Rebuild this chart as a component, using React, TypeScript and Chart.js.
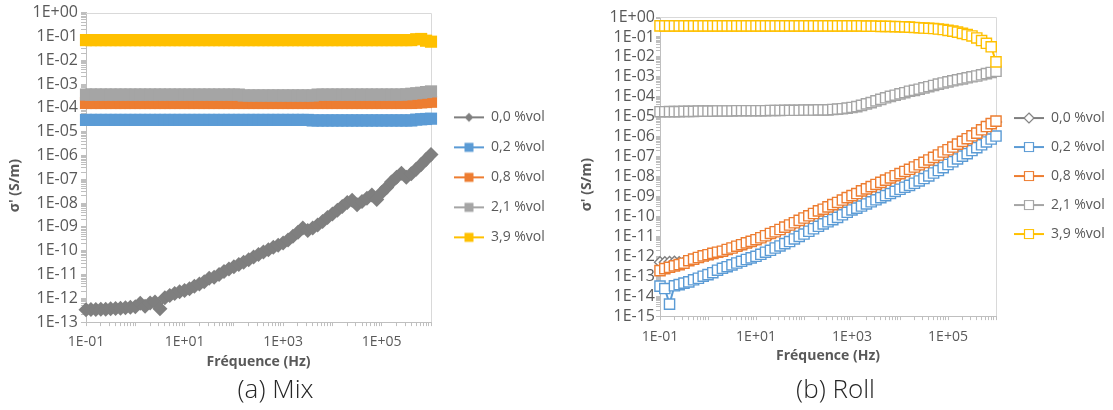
import React, { useEffect, useRef } from 'react';
import { Chart, registerables } from 'chart.js';

Chart.register(...registerables);

const FONT = '"Open Sans", "DejaVu Sans", sans-serif';
const TEXT = '#595959';
const AXIS = '#BFBFBF';

// ---- data ----
const frequencyHz = [
  0.1, 0.126, 0.158, 0.2, 0.251, 0.316, 0.398, 0.501, 0.631, 0.794,
  1, 1.26, 1.58, 2, 2.51, 3.16, 3.98, 5.01, 6.31, 7.94,
  10, 12.6, 15.8, 20, 25.1, 31.6, 39.8, 50.1, 63.1, 79.4,
  100, 126, 158, 200, 251, 316, 398, 501, 631, 794,
  1000, 1260, 1580, 2000, 2510, 3160, 3980, 5010, 6310, 7940,
  10000, 12600, 15800, 20000, 25100, 31600, 39800, 50100, 63100, 79400,
  100000, 126000, 158000, 200000, 251000, 316000, 398000, 501000, 631000, 794000,
  1000000,
];

const seriesLabels = ['0,0 %vol', '0,2 %vol', '0,8 %vol', '2,1 %vol', '3,9 %vol'];
const seriesColors = ['#7F7F7F', '#5B9BD5', '#ED7D31', '#A5A5A5', '#FFC000'];

// (a) Mix
const mix00 = [
  3.3e-13, 3.4e-13, 3.4e-13, 3.5e-13, 3.5e-13, 3.6e-13, 3.7e-13, 3.8e-13, 4.0e-13, 4.2e-13,
  4.4e-13, 6.2e-13, 4.6e-13, 6.4e-13, 7.0e-13, 3.6e-13, 1.05e-12, 1.3e-12, 1.6e-12, 1.9e-12,
  2.1e-12, 2.5e-12, 3.2e-12, 4.0e-12, 5.0e-12, 7.0e-12, 7.6e-12, 1.0e-11, 1.35e-11, 1.7e-11,
  2.1e-11, 2.6e-11, 3.3e-11, 4.2e-11, 5.4e-11, 6.9e-11, 8.7e-11, 1.1e-10, 1.4e-10, 1.7e-10,
  2.1e-10, 2.8e-10, 4.0e-10, 6.0e-10, 9.0e-10, 7.0e-10, 9.0e-10, 1.2e-9, 1.7e-9, 2.5e-9,
  3.5e-9, 5.0e-9, 7.1e-9, 1.05e-8, 1.3e-8, 8.5e-9, 1.15e-8, 1.6e-8, 2.2e-8, 1.4e-8,
  2.8e-8, 4.5e-8, 7.6e-8, 1.2e-7, 1.8e-7, 1.2e-7, 1.7e-7, 2.6e-7, 4.2e-7, 6.8e-7,
  1.1e-6,
];
const mix02 = [
  3.1e-5, 3.1e-5, 3.1e-5, 3.1e-5, 3.1e-5, 3.1e-5, 3.1e-5, 3.1e-5, 3.1e-5, 3.1e-5,
  3.1e-5, 3.1e-5, 3.1e-5, 3.1e-5, 3.1e-5, 3.1e-5, 3.1e-5, 3.1e-5, 3.1e-5, 3.1e-5,
  3.1e-5, 3.1e-5, 3.1e-5, 3.1e-5, 3.1e-5, 3.1e-5, 3.1e-5, 3.1e-5, 3.1e-5, 3.1e-5,
  3.1e-5, 3.1e-5, 3.1e-5, 3.1e-5, 3.1e-5, 3.1e-5, 3.1e-5, 3.1e-5, 3.1e-5, 3.1e-5,
  3.1e-5, 3.1e-5, 3.1e-5, 3.1e-5, 3.1e-5, 3.1e-5, 2.95e-5, 2.95e-5, 2.95e-5, 2.95e-5,
  2.95e-5, 2.95e-5, 2.95e-5, 2.95e-5, 2.95e-5, 2.95e-5, 2.95e-5, 2.95e-5, 2.95e-5, 2.95e-5,
  2.95e-5, 2.95e-5, 2.95e-5, 2.95e-5, 2.95e-5, 2.95e-5, 2.95e-5, 3.2e-5, 3.3e-5, 3.4e-5,
  3.5e-5,
];
const mix08 = [
  1.6e-4, 1.6e-4, 1.6e-4, 1.6e-4, 1.6e-4, 1.6e-4, 1.6e-4, 1.6e-4, 1.6e-4, 1.6e-4,
  1.6e-4, 1.6e-4, 1.6e-4, 1.6e-4, 1.6e-4, 1.6e-4, 1.6e-4, 1.6e-4, 1.6e-4, 1.6e-4,
  1.6e-4, 1.6e-4, 1.6e-4, 1.6e-4, 1.6e-4, 1.6e-4, 1.6e-4, 1.6e-4, 1.6e-4, 1.6e-4,
  1.6e-4, 1.6e-4, 1.6e-4, 1.6e-4, 1.6e-4, 1.6e-4, 1.6e-4, 1.6e-4, 1.6e-4, 1.6e-4,
  1.6e-4, 1.6e-4, 1.6e-4, 1.6e-4, 1.6e-4, 1.6e-4, 1.6e-4, 1.6e-4, 1.6e-4, 1.6e-4,
  1.6e-4, 1.6e-4, 1.6e-4, 1.6e-4, 1.6e-4, 1.6e-4, 1.6e-4, 1.6e-4, 1.6e-4, 1.6e-4,
  1.6e-4, 1.6e-4, 1.6e-4, 1.6e-4, 1.6e-4, 1.6e-4, 1.6e-4, 1.65e-4, 1.7e-4, 1.75e-4,
  1.8e-4,
];
const mix21 = [
  3.6e-4, 3.6e-4, 3.6e-4, 3.6e-4, 3.6e-4, 3.6e-4, 3.6e-4, 3.6e-4, 3.6e-4, 3.6e-4,
  3.6e-4, 3.6e-4, 3.6e-4, 3.6e-4, 3.6e-4, 3.6e-4, 3.6e-4, 3.6e-4, 3.6e-4, 3.6e-4,
  3.6e-4, 3.6e-4, 3.6e-4, 3.6e-4, 3.6e-4, 3.6e-4, 3.6e-4, 3.6e-4, 3.6e-4, 3.6e-4,
  3.6e-4, 3.6e-4, 3.3e-4, 3.3e-4, 3.3e-4, 3.3e-4, 3.3e-4, 3.3e-4, 3.3e-4, 3.3e-4,
  3.3e-4, 3.3e-4, 3.3e-4, 3.3e-4, 3.3e-4, 3.3e-4, 3.3e-4, 3.6e-4, 3.6e-4, 3.6e-4,
  3.6e-4, 3.6e-4, 3.6e-4, 3.6e-4, 3.6e-4, 3.6e-4, 3.6e-4, 3.6e-4, 3.6e-4, 3.6e-4,
  3.6e-4, 3.6e-4, 3.6e-4, 3.6e-4, 3.6e-4, 3.7e-4, 3.9e-4, 4.1e-4, 4.3e-4, 4.6e-4,
  4.9e-4,
];
const mix39 = [
  0.07, 0.07, 0.07, 0.07, 0.07, 0.07, 0.07, 0.07, 0.07, 0.07,
  0.07, 0.07, 0.07, 0.07, 0.07, 0.07, 0.07, 0.07, 0.07, 0.07,
  0.07, 0.07, 0.07, 0.07, 0.07, 0.07, 0.07, 0.07, 0.07, 0.07,
  0.07, 0.07, 0.07, 0.07, 0.07, 0.07, 0.07, 0.07, 0.07, 0.07,
  0.07, 0.07, 0.07, 0.07, 0.07, 0.07, 0.07, 0.07, 0.07, 0.07,
  0.07, 0.07, 0.07, 0.07, 0.07, 0.07, 0.07, 0.07, 0.07, 0.07,
  0.07, 0.07, 0.07, 0.07, 0.07, 0.07, 0.07, 0.076, 0.078, 0.066,
  0.06,
];

// (b) Roll
const roll00 = [
  5.0e-13, 5.0e-13, 5.2e-13, 5.3e-13, 5.0e-13, 5.0e-13, 6.0e-13, 7.0e-13, 8.5e-13, 1.0e-12,
  1.1e-12, 1.3e-12, 1.5e-12, 1.7e-12, 2.0e-12, 2.4e-12, 2.9e-12, 3.5e-12, 4.3e-12, 5.1e-12,
  6.2e-12, 7.7e-12, 9.7e-12, 1.25e-11, 1.55e-11, 2.0e-11, 2.6e-11, 3.3e-11, 4.3e-11, 5.7e-11,
  7.5e-11, 9.6e-11, 1.25e-10, 1.7e-10, 2.1e-10, 2.7e-10, 3.5e-10, 4.5e-10, 6.0e-10, 7.8e-10,
  1.0e-9, 1.25e-9, 1.7e-9, 2.2e-9, 2.8e-9, 3.6e-9, 4.6e-9, 6.0e-9, 7.6e-9, 1.0e-8,
  1.25e-8, 1.6e-8, 2.1e-8, 2.7e-8, 3.5e-8, 4.6e-8, 6.1e-8, 8.2e-8, 1.1e-7, 1.5e-7,
  2.0e-7, 2.7e-7, 3.8e-7, 5.2e-7, 7.1e-7, 1.0e-6, 1.35e-6, 2.0e-6, 2.9e-6, 4.0e-6,
  5.4e-6,
];
const roll02 = [
  3.2e-14, 2.4e-14, 4.0e-15, 3.3e-14, 3.8e-14, 4.5e-14, 5.2e-14, 6.6e-14, 7.9e-14, 1.0e-13,
  1.2e-13, 1.5e-13, 2.0e-13, 2.5e-13, 3.0e-13, 3.7e-13, 4.6e-13, 5.6e-13, 6.9e-13, 8.3e-13,
  1.0e-12, 1.26e-12, 1.6e-12, 2.0e-12, 2.6e-12, 3.3e-12, 4.3e-12, 5.5e-12, 7.4e-12, 1.0e-11,
  1.3e-11, 1.8e-11, 2.4e-11, 3.2e-11, 4.2e-11, 5.4e-11, 6.9e-11, 8.9e-11, 1.2e-10, 1.6e-10,
  2.1e-10, 2.6e-10, 3.3e-10, 4.2e-10, 5.4e-10, 6.8e-10, 8.7e-10, 1.1e-9, 1.4e-9, 1.8e-9,
  2.3e-9, 2.9e-9, 3.6e-9, 4.6e-9, 6.0e-9, 7.9e-9, 1.07e-8, 1.5e-8, 2.0e-8, 2.8e-8,
  4.0e-8, 5.5e-8, 7.6e-8, 1.05e-7, 1.4e-7, 2.0e-7, 2.8e-7, 3.9e-7, 5.4e-7, 7.6e-7,
  1.07e-6,
];
const roll08 = [
  1.9e-13, 2.4e-13, 2.8e-13, 3.3e-13, 3.8e-13, 4.5e-13, 6.0e-13, 7.2e-13, 8.7e-13, 1.05e-12,
  1.2e-12, 1.4e-12, 1.6e-12, 1.8e-12, 2.2e-12, 2.6e-12, 3.2e-12, 3.8e-12, 4.7e-12, 5.6e-12,
  6.8e-12, 8.5e-12, 1.07e-11, 1.4e-11, 1.7e-11, 2.2e-11, 2.9e-11, 3.7e-11, 4.8e-11, 6.3e-11,
  8.3e-11, 1.07e-10, 1.4e-10, 1.9e-10, 2.3e-10, 3.0e-10, 3.9e-10, 5.0e-10, 6.6e-10, 8.7e-10,
  1.1e-9, 1.4e-9, 1.9e-9, 2.4e-9, 3.1e-9, 4.0e-9, 5.1e-9, 6.6e-9, 8.5e-9, 1.1e-8,
  1.4e-8, 1.8e-8, 2.3e-8, 3.0e-8, 3.9e-8, 5.1e-8, 6.8e-8, 9.1e-8, 1.2e-7, 1.7e-7,
  2.2e-7, 3.0e-7, 4.2e-7, 5.8e-7, 7.9e-7, 1.1e-6, 1.5e-6, 2.2e-6, 3.2e-6, 4.5e-6,
  6.0e-6,
];
const roll21 = [
  1.78e-5, 1.78e-5, 1.8e-5, 1.8e-5, 1.8e-5, 1.85e-5, 1.85e-5, 1.85e-5, 1.9e-5, 1.9e-5,
  1.9e-5, 1.9e-5, 1.95e-5, 1.95e-5, 1.95e-5, 1.95e-5, 2.0e-5, 2.0e-5, 2.0e-5, 2.0e-5,
  2.0e-5, 2.0e-5, 2.0e-5, 2.05e-5, 2.05e-5, 2.05e-5, 2.1e-5, 2.1e-5, 2.1e-5, 2.1e-5,
  2.15e-5, 2.15e-5, 2.15e-5, 2.2e-5, 2.2e-5, 2.2e-5, 2.3e-5, 2.4e-5, 2.5e-5, 2.7e-5,
  2.9e-5, 3.2e-5, 3.7e-5, 4.4e-5, 5.1e-5, 6.2e-5, 7.4e-5, 8.9e-5, 1.05e-4, 1.2e-4,
  1.4e-4, 1.6e-4, 1.9e-4, 2.1e-4, 2.4e-4, 2.8e-4, 3.2e-4, 3.7e-4, 4.3e-4, 4.9e-4,
  5.6e-4, 6.3e-4, 7.1e-4, 7.9e-4, 8.9e-4, 1.0e-3, 1.1e-3, 1.26e-3, 1.45e-3, 1.66e-3,
  1.9e-3,
];
const roll39 = [
  0.36, 0.36, 0.36, 0.36, 0.36, 0.36, 0.36, 0.36, 0.36, 0.36,
  0.36, 0.36, 0.36, 0.36, 0.36, 0.36, 0.36, 0.36, 0.36, 0.36,
  0.36, 0.36, 0.36, 0.36, 0.36, 0.36, 0.36, 0.36, 0.36, 0.36,
  0.36, 0.36, 0.36, 0.36, 0.36, 0.36, 0.36, 0.36, 0.36, 0.36,
  0.36, 0.36, 0.355, 0.35, 0.35, 0.345, 0.34, 0.34, 0.335, 0.33,
  0.325, 0.32, 0.31, 0.3, 0.29, 0.28, 0.272, 0.263, 0.25, 0.234,
  0.214, 0.195, 0.174, 0.151, 0.132, 0.112, 0.089, 0.066, 0.048, 0.032,
  0.0056,
];

// ---- axes ----
const xDecades = [0.1, 1, 10, 100, 1000, 10000, 100000, 1000000];
const xTickLabels = ['1E-01', '1E+01', '1E+03', '1E+05'];
const mixYDecades = [1e-13, 1e-12, 1e-11, 1e-10, 1e-9, 1e-8, 1e-7, 1e-6, 1e-5, 1e-4, 1e-3, 1e-2, 1e-1, 1];
const mixYTickLabels = ['1E+00', '1E-01', '1E-02', '1E-03', '1E-04', '1E-05', '1E-06', '1E-07', '1E-08', '1E-09', '1E-10', '1E-11', '1E-12', '1E-13'];
const rollYDecades = [1e-15, 1e-14, 1e-13, 1e-12, 1e-11, 1e-10, 1e-9, 1e-8, 1e-7, 1e-6, 1e-5, 1e-4, 1e-3, 1e-2, 1e-1, 1];
const rollYTickLabels = ['1E+00', '1E-01', '1E-02', '1E-03', '1E-04', '1E-05', '1E-06', '1E-07', '1E-08', '1E-09', '1E-10', '1E-11', '1E-12', '1E-13', '1E-14', '1E-15'];
const xTitle = 'Fréquence (Hz)';
const yTitle = "σ' (S/m)";

function decadeTicks(decades: number[]) {
  const ticks: { value: number; major: boolean }[] = [];
  decades.forEach((d, i) => {
    ticks.push({ value: d, major: true });
    if (i < decades.length - 1) {
      for (let m = 2; m <= 9; m++) ticks.push({ value: d * m, major: false });
    }
  });
  return ticks;
}

function decadeLabel(v: number, allowed: string[]) {
  const e = Math.round(Math.log10(v));
  if (Math.abs(v / Math.pow(10, e) - 1) > 1e-6) return '';
  const s = '1E' + (e < 0 ? '-' : '+') + String(Math.abs(e)).padStart(2, '0');
  return allowed.includes(s) ? s : '';
}

function legendIcon(color: string, idx: number, hollow: boolean, lineStart: number, width: number) {
  const c = document.createElement('canvas');
  c.width = width;
  c.height = 14;
  const ctx = c.getContext('2d')!;
  ctx.strokeStyle = color;
  ctx.lineWidth = 2;
  ctx.beginPath();
  ctx.moveTo(lineStart, 7);
  ctx.lineTo(width, 7);
  ctx.stroke();
  const cx = (lineStart + width) / 2;
  ctx.beginPath();
  if (idx === 0) {
    const r = hollow ? 5 : 4.5;
    ctx.moveTo(cx, 7 - r);
    ctx.lineTo(cx + r, 7);
    ctx.lineTo(cx, 7 + r);
    ctx.lineTo(cx - r, 7);
    ctx.closePath();
  } else {
    const h = 4.5;
    ctx.rect(cx - h, 7 - h, 2 * h, 2 * h);
  }
  if (hollow) {
    ctx.fillStyle = '#FFFFFF';
    ctx.fill();
    ctx.lineWidth = 1.2;
    ctx.strokeStyle = color;
    ctx.stroke();
  } else {
    ctx.fillStyle = color;
    ctx.fill();
  }
  return c;
}

const frameBorder = {
  id: 'frameBorder',
  beforeDatasetsDraw(chart: any) {
    const { ctx, chartArea } = chart;
    const { left, top, right, bottom } = chartArea;
    ctx.save();
    ctx.strokeStyle = '#D9D9D9';
    ctx.lineWidth = 1;
    ctx.beginPath();
    ctx.moveTo(left, Math.round(top) + 0.5);
    ctx.lineTo(Math.round(right) + 0.5, Math.round(top) + 0.5);
    ctx.lineTo(Math.round(right) + 0.5, bottom);
    ctx.stroke();
    ctx.restore();
  },
};

type Panel = {
  caption: string;
  series: number[][];
  yDecades: number[];
  yTickLabels: string[];
  hollow: boolean;
  padTop: number;
  padRight: number;
  legendWidth: number;
  yAxisWidth: number;
  xAxisHeight: number;
  xTickPad: number;
  xTitlePadBottom: number;
  yTitlePadTop: number;
  yTickLength: number;
  yTickPad: number;
  legendPad: number;
  legendTitleGap: number;
  legendBoxW: number;
  legendLineStart: number;
};

const mixPanel: Panel = {
  caption: '(a) Mix',
  series: [mix00, mix02, mix08, mix21, mix39],
  yDecades: mixYDecades,
  yTickLabels: mixYTickLabels,
  hollow: false,
  padTop: 12,
  padRight: 5,
  legendWidth: 120,
  yAxisWidth: 86,
  xAxisHeight: 54,
  xTickPad: 8,
  xTitlePadBottom: 5.6,
  yTitlePadTop: 6.6,
  yTickLength: 5,
  yTickPad: 3,
  legendPad: 16,
  legendTitleGap: 20,
  legendBoxW: 37,
  legendLineStart: 7,
};

const rollPanel: Panel = {
  caption: '(b) Roll',
  series: [roll00, roll02, roll08, roll21, roll39],
  yDecades: rollYDecades,
  yTickLabels: rollYTickLabels,
  hollow: true,
  padTop: 17,
  padRight: 2,
  legendWidth: 115,
  yAxisWidth: 100,
  xAxisHeight: 60,
  xTickPad: 9,
  xTitlePadBottom: 11.6,
  yTitlePadTop: 18.6,
  yTickLength: 4,
  yTickPad: 1,
  legendPad: 15,
  legendTitleGap: 19,
  legendBoxW: 33,
  legendLineStart: 3,
};

function buildPanel(canvas: HTMLCanvasElement, p: Panel) {
  const icons = seriesColors.map((c, i) => legendIcon(c, i, p.hollow, p.legendLineStart, p.legendBoxW));
  const datasets = p.series.map((values, i) => ({
    label: seriesLabels[i],
    data: frequencyHz.map((f, k) => ({ x: f, y: values[k] })),
    borderColor: seriesColors[i],
    backgroundColor: p.hollow ? '#FFFFFF' : seriesColors[i],
    borderWidth: 2,
    showLine: true,
    pointStyle: i === 0 ? 'rectRot' : 'rect',
    pointRadius: p.hollow ? (i === 0 ? 5.5 : 7.2) : i === 0 ? 7.5 : 8.6,
    pointBorderWidth: p.hollow ? 1.4 : 0,
    pointHoverRadius: 0,
    order: seriesLabels.length - i,
    clip: false as any,
  }));

  return new Chart(canvas, {
    type: 'line',
    data: { datasets },
    plugins: [frameBorder],
    options: {
      responsive: false,
      animation: false,
      events: [],
      layout: { padding: { left: 0, top: p.padTop, right: p.padRight, bottom: 4 } },
      plugins: {
        legend: {
          position: 'right',
          align: 'center',
          fullSize: false,
          maxWidth: p.legendWidth,
          title: { display: true, text: '', font: { size: 1 }, padding: { top: p.legendTitleGap - 1.2, bottom: 0 } },
          labels: {
            usePointStyle: true,
            pointStyleWidth: p.legendBoxW,
            padding: p.legendPad,
            color: TEXT,
            font: { family: FONT, size: 14 },
            generateLabels: (chart: any) =>
              chart.data.datasets.map((ds: any, i: number) => ({
                text: ds.label,
                pointStyle: icons[i],
                fillStyle: 'transparent',
                strokeStyle: 'transparent',
                lineWidth: 0,
                hidden: false,
                datasetIndex: i,
                fontColor: TEXT,
              })),
          },
        },
        title: {
          display: true,
          text: p.caption,
          position: 'bottom',
          color: '#262626',
          font: { family: FONT, size: 26, weight: '300' as any, lineHeight: 1.15 },
          padding: 0,
        },
        tooltip: { enabled: false },
      },
      scales: {
        x: {
          type: 'logarithmic',
          min: 0.1,
          max: 1000000,
          afterBuildTicks: (scale: any) => {
            scale.ticks = decadeTicks(xDecades);
          },
          afterFit: (scale: any) => {
            scale.height = p.xAxisHeight;
          },
          grid: { drawOnChartArea: false, drawTicks: true, tickLength: 4, color: AXIS },
          border: { display: true, color: AXIS, width: 1 },
          ticks: {
            autoSkip: false,
            maxRotation: 0,
            minRotation: 0,
            padding: p.xTickPad,
            color: TEXT,
            font: { family: FONT, size: 14 },
            callback: (v: any) => decadeLabel(Number(v), xTickLabels),
          },
          title: {
            display: true,
            text: xTitle,
            color: TEXT,
            font: { family: FONT, size: 14, weight: 'bold' },
            padding: { top: 0, bottom: p.xTitlePadBottom },
          },
        },
        y: {
          type: 'logarithmic',
          min: p.yDecades[0],
          max: 1,
          afterBuildTicks: (scale: any) => {
            scale.ticks = decadeTicks(p.yDecades);
          },
          afterFit: (scale: any) => {
            scale.width = p.yAxisWidth;
          },
          grid: { drawOnChartArea: false, drawTicks: true, tickLength: p.yTickLength, color: AXIS },
          border: { display: true, color: AXIS, width: 1 },
          ticks: {
            autoSkip: false,
            padding: p.yTickPad,
            color: TEXT,
            font: { family: FONT, size: 16 },
            callback: (v: any) => decadeLabel(Number(v), p.yTickLabels),
          },
          title: {
            display: true,
            // trailing spaces keep the visible title slightly below the axis centre, as in the original
            text: yTitle + '          ',
            color: TEXT,
            font: { family: FONT, size: 14, weight: 'bold' },
            padding: { top: p.yTitlePadTop, bottom: 0 },
          },
        },
      },
    } as any,
  });
}

export default function App() {
  const leftRef = useRef<HTMLCanvasElement>(null);
  const rightRef = useRef<HTMLCanvasElement>(null);

  useEffect(() => {
    const charts = [buildPanel(leftRef.current!, mixPanel), buildPanel(rightRef.current!, rollPanel)];
    return () => charts.forEach((c) => c.destroy());
  }, []);

  return (
    <div style={{ position: 'fixed', left: 0, top: 0, width: 1113, height: 410, background: '#FFFFFF' }}>
      <canvas ref={leftRef} width={556} height={410} style={{ position: 'absolute', left: 0, top: 0 }} />
      <canvas ref={rightRef} width={553} height={410} style={{ position: 'absolute', left: 560, top: 0 }} />
    </div>
  );
}
